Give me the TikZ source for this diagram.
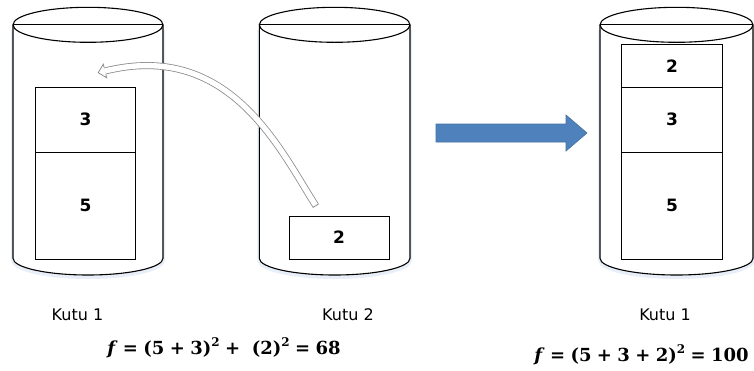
\documentclass[tikz,border=0pt]{standalone}
\usepackage[no-math]{fontspec}
\newfontfamily\lab{DejaVu Sans}
\newfontfamily\fser{DejaVu Serif}
\usetikzlibrary{arrows.meta}
\definecolor{arrowblue}{HTML}{4F81BD}
\definecolor{arrowedge}{HTML}{41709F}
\definecolor{tubegray}{HTML}{8C8C8C}
\definecolor{glow}{HTML}{E8EFF8}
\newcommand{\sq}{\raisebox{0.42em}{\fontsize{12}{13}\selectfont 2}}
\newcommand{\fvar}{\textit{f}}
\newcommand{\sop}[1]{\hspace{0.3em}#1\hspace{0.3em}}
\begin{document}
\begin{tikzpicture}[x=1pt,y=-1pt,
  cyl/.style={draw=black, line width=1.1pt},
  glowline/.style={draw=glow, line width=4pt},
  box/.style={draw=black, line width=1pt, fill=white, inner sep=0pt, font=\lab\bfseries\fontsize{17}{19}\selectfont},
  lbl/.style={font=\lab\fontsize{16}{18}\selectfont, anchor=base, inner sep=0pt},
  fml/.style={font=\fser\bfseries\fontsize{18}{20}\selectfont, anchor=base, inner sep=0pt},
  tubeout/.style={draw=tubegray, line width=7pt},
  tubein/.style={draw=white, line width=5.4pt},
  bigarrow/.style={fill=arrowblue, draw=arrowedge, line width=0.6pt}]
\useasboundingbox (0,0) rectangle (754,370);

% soft glow under cylinders
\draw[glowline] (13,30) -- (13,260) arc[start angle=180, end angle=360, x radius=75pt, y radius=17pt] -- (163,30);
\draw[glowline] (259.3,30) -- (259.3,260) arc[start angle=180, end angle=360, x radius=75.35pt, y radius=17pt] -- (410,30);
\draw[glowline] (600,30) -- (600,260) arc[start angle=180, end angle=360, x radius=76.5pt, y radius=17pt] -- (753,30);

% cylinder 1
\draw[cyl, fill=white] (13,24.8) -- (13,258.3) arc[start angle=180, end angle=360, x radius=75pt, y radius=16.7pt] -- (163,24.8);
\draw[cyl] (88,24.8) ellipse[x radius=75pt, y radius=17.5pt];
\draw[cyl] (13,24.8) -- (163,24.8);
% cylinder 2
\draw[cyl, fill=white] (259.3,24.8) -- (259.3,258.3) arc[start angle=180, end angle=360, x radius=75.35pt, y radius=16.7pt] -- (410,24.8);
\draw[cyl] (334.65,24.8) ellipse[x radius=75.35pt, y radius=17.5pt];
\draw[cyl] (259.3,24.8) -- (410,24.8);
% cylinder 3
\draw[cyl, fill=white] (600,24.8) -- (600,258.3) arc[start angle=180, end angle=360, x radius=76.5pt, y radius=16.7pt] -- (753,24.8);
\draw[cyl] (676.5,24.8) ellipse[x radius=76.5pt, y radius=17.5pt];
\draw[cyl] (600,24.8) -- (753,24.8);

% boxes
\node[box, minimum width=99.6pt, minimum height=64.7pt] (a3) at (85.5,119.65) {3};
\node[box, minimum width=99.6pt, minimum height=107pt] (a5) at (85.5,205.5) {5};
\node[box, minimum width=100pt, minimum height=43pt] (b2) at (339,237.5) {2};
\node[box, minimum width=100.6pt, minimum height=43pt] (c2) at (672,65.8) {2};
\node[box, minimum width=100.6pt, minimum height=64.7pt] (c3) at (672,119.65) {3};
\node[box, minimum width=100.6pt, minimum height=107pt] (c5) at (672,205.5) {5};

% curved hollow arrow
\coordinate (cs) at (316,206);
\coordinate (ce) at (105,71);
\draw[tubeout] (cs) .. controls (280,150) and (230,40) .. (ce);
\draw[tubein, shorten <=0.9pt] (cs) .. controls (280,150) and (230,40) .. (ce);
\fill[white] (104.16,67.6) -- (103.3,64.2) -- (98.2,72.7) -- (106.7,77.8) -- (105.84,74.4) -- cycle;
\draw[draw=tubegray, line width=0.8pt, line join=miter] (104.16,67.6) -- (103.3,64.2) -- (98.2,72.7) -- (106.7,77.8) -- (105.84,74.4);

% big blue arrow
\draw[bigarrow] (436,124) -- (566,124) -- (566,115) -- (587,133) -- (566,151) -- (566,142) -- (436,142) -- cycle;

% labels
\node[lbl] (k1) at (77.5,320) {Kutu 1};
\node[lbl] (k2) at (348,320) {Kutu 2};
\node[lbl] (k3) at (665,320) {Kutu 1};

% formulas
\node[fml] (f1) at (224,354) {\fvar\sop{=}(5\sop{+}3)\sq\sop{+}\ (2)\sq\sop{=}68};
\node[fml] (f2) at (641.5,361) {\fvar\sop{=}(5\sop{+}3\sop{+}2)\sq\sop{=}100};
\end{tikzpicture}
\end{document}
